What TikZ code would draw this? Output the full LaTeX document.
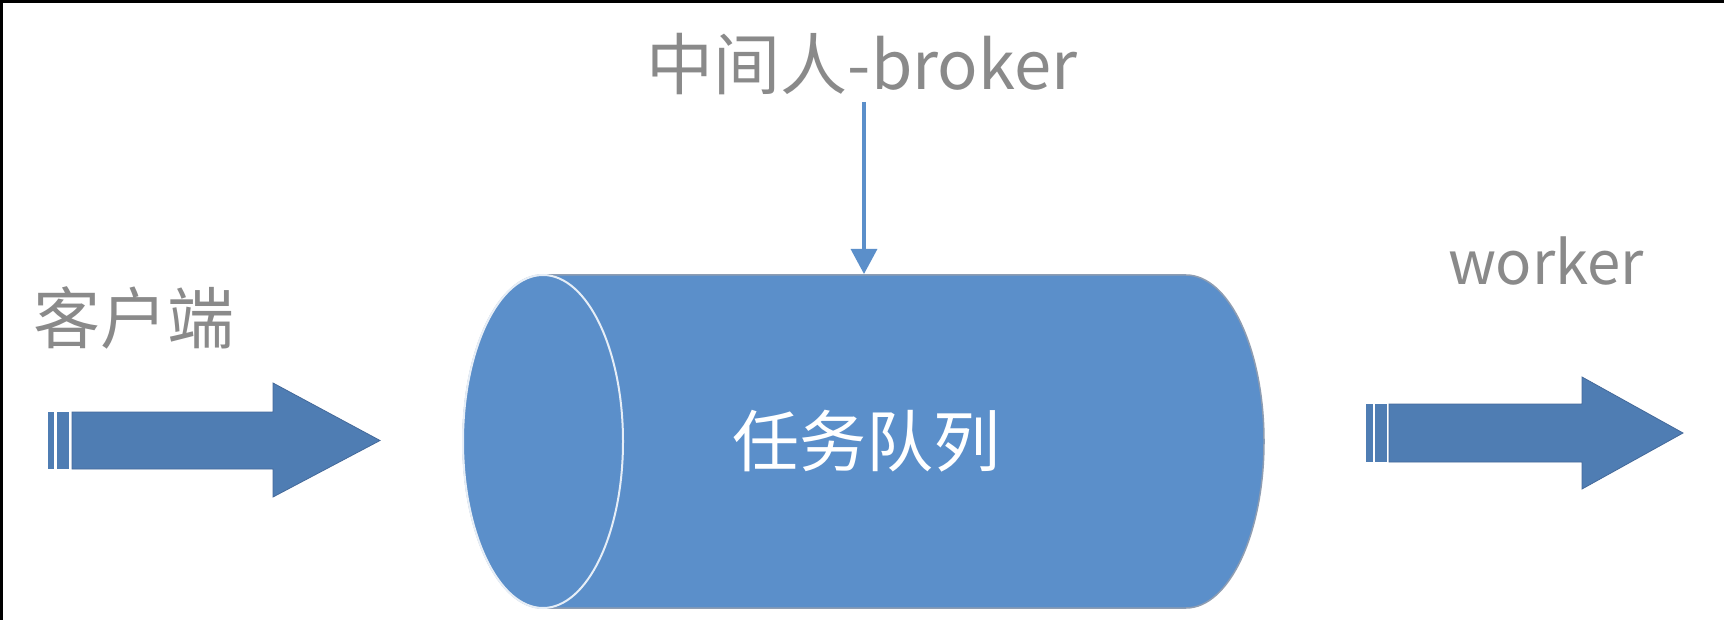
\documentclass[tikz,border=0pt]{standalone}
\usepackage{fontspec}
\newfontfamily\cjk{Noto Sans CJK SC}
\usetikzlibrary{arrows.meta}
\definecolor{cylblue}{HTML}{5B8FCA}
\definecolor{arrblue}{HTML}{4F7DB3}
\definecolor{arredge}{HTML}{44699A}
\definecolor{txtgray}{HTML}{8A8A8A}
\definecolor{rimgray}{HTML}{8E9DB2}
\tikzset{
  lbl/.style={inner sep=0pt, text=txtgray, font=\cjk\fontsize{67}{72}\selectfont},
  inlbl/.style={inner sep=0pt, text=white, font=\cjk\fontsize{67}{72}\selectfont},
  fatarrow/.style={fill=arrblue, draw=arredge, line width=0.8pt, line join=miter},
  brokerline/.style={draw=cylblue, line width=3.2pt, -{Triangle[width=26pt,length=25pt]}},
}
\begin{document}
\begin{tikzpicture}[x=1pt,y=-1pt]
\path[use as bounding box, fill=white] (0,0) rectangle (1724,620);
% frame edges (top and left)
\draw[black, line width=3pt] (1.5,620) -- (1.5,1.5) -- (1724,1.5);

% cylinder
\path[fill=cylblue, draw=rimgray, line width=1.5pt]
  (543,275) -- (1186,275) arc[start angle=-90, end angle=90, x radius=78, y radius=166.5]
  -- (543,608) arc[start angle=90, end angle=270, x radius=80, y radius=166.5] -- cycle;
\draw[draw=white!85!cylblue, line width=2pt] (543,441.5) ellipse[x radius=80, y radius=166.5];
\coordinate (cyltop) at (864,274);

% labels
\node[lbl, anchor=base] (broker) at (862,90) {中间人-broker};
\node[lbl] (client) at (134,318) {客户端};
\node[lbl, anchor=base, font=\cjk\fontsize{60}{66}\selectfont] (worker) at (1546,285) {worker};
\node[inlbl] (queue) at (866,441) {任务队列};

% broker arrow
\coordinate (bk) at (864,102);
\draw[brokerline] (bk) -- (cyltop);

% left fat arrow
\fill[arrblue] (48,412) rectangle (54,469);
\fill[arrblue] (57,412) rectangle (69,469);
\path[fatarrow] (72,412) -- (273,412) -- (273,383) -- (380,440.5) -- (273,497) -- (273,469) -- (72,469) -- cycle;

% right fat arrow
\fill[arrblue] (1366,404) rectangle (1373,462);
\fill[arrblue] (1375,404) rectangle (1387,462);
\path[fatarrow] (1389,404) -- (1582,404) -- (1582,377) -- (1683,433) -- (1582,489) -- (1582,462) -- (1389,462) -- cycle;
\end{tikzpicture}
\end{document}
